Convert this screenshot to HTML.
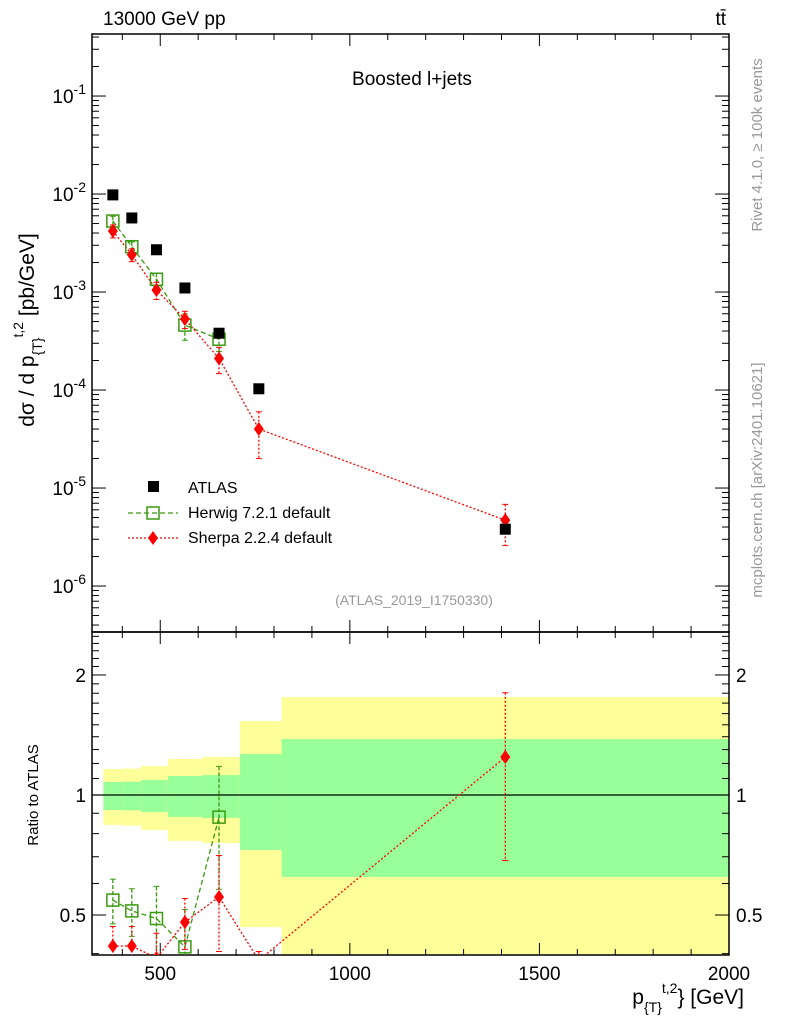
<!DOCTYPE html>
<html><head><meta charset="utf-8">
<style>
html,body{margin:0;padding:0;background:#fff;font-family:"Liberation Sans",sans-serif;overflow:hidden;width:786px;height:1024px;}
svg{display:block;}
svg text{font-family:"Liberation Sans",sans-serif;}
</style></head>
<body>
<svg id="c" width="786" height="1024" xmlns="http://www.w3.org/2000/svg"></svg>
<script>
const xCenters=[375,425,490,565,655,760,1410];
const binEdges=[350,400,450,520,610,710,820,2000];
const atlasVals=[0.0098,0.0057,0.0027,0.0011,0.00038,1.03e-4,3.8e-6];
const herwigX=[375,425,490,565,655];
const herwigVals=[0.0053,0.0029,0.00135,0.00046,0.00033];
const herwigErr=[0.12,0.12,0.15,0.3,0.25];
const sherpaVals=[0.0042,0.0024,0.00105,0.00053,0.00021,4.0e-5,4.7e-6];
const sherpaErr=[0.15,0.15,0.2,0.2,0.3,0.5,0.45];
const herwigRatio=[0.545,0.512,0.49,0.416,0.88];
const herwigRatioErr=[0.07,0.07,0.1,0.1,0.3];
const sherpaRatio=[0.418,0.418,0.39,0.48,0.555,0.385,1.245];
const sherpaRatioErr=[0.05,0.05,0.06,0.07,0.15,0.02,0.56];
const yellowHi=[1.162,1.165,1.182,1.231,1.245,1.533,1.76];
const yellowLo=[0.841,0.838,0.817,0.767,0.758,0.466,0.3];
const greenHi=[1.078,1.08,1.09,1.116,1.122,1.267,1.382];
const greenLo=[0.917,0.915,0.906,0.881,0.876,0.728,0.623];
const xTicks=[500,1000,1500,2000];
const yTickExp=[-1,-2,-3,-4,-5,-6];
const rTicks=[0.5,1,2];

const L=92,R=729,T=34,M=632,B=955;
const X=v=>L+(v-320)*(R-L)/(2000-320);
const Y=v=>T+(-0.367-Math.log10(v))*98;
const RY=v=>795-Math.log10(v)*398.7;
const svg=document.getElementById('c');
const NS='http://www.w3.org/2000/svg';
function el(t,a,p){const e=document.createElementNS(NS,t);for(const k in a)e.setAttribute(k,a[k]);(p||svg).appendChild(e);return e;}
function txt(s,a,p){const e=el('text',a,p);e.textContent=s;return e;}
el('defs',{}).innerHTML='<clipPath id="cu"><rect x="92" y="34" width="637" height="598"/></clipPath><clipPath id="cl"><rect x="92" y="632" width="637" height="323"/></clipPath>';

const gb=el('g',{'clip-path':'url(#cl)'});

for(let i=0;i<yellowHi.length;i++){
 const x0=X(binEdges[i]),x1=X(binEdges[i+1]);
 const y=el('rect',{x:x0,y:RY(yellowHi[i]),width:x1-x0,height:RY(yellowLo[i])-RY(yellowHi[i]),fill:'#ffff99'},gb);
 
 const g=el('rect',{x:x0,y:RY(greenHi[i]),width:x1-x0,height:RY(greenLo[i])-RY(greenHi[i]),fill:'#99ff99'},gb);
 
}
el('line',{x1:L,x2:R,y1:RY(1),y2:RY(1),stroke:'#000','stroke-width':1.2});

el('rect',{x:L,y:T,width:R-L,height:M-T,fill:'none',stroke:'#000','stroke-width':1.5});
el('rect',{x:L,y:M,width:R-L,height:B-M,fill:'none',stroke:'#000','stroke-width':1.5});

for(let v=400;v<=2000;v+=100){
 const big=v%500===0,x=X(v);
 for(const [top,bot] of [[T,M],[M,B]]){
  el('line',{x1:x,x2:x,y1:bot,y2:bot-(big?12:6),stroke:'#000'});
  el('line',{x1:x,x2:x,y1:top,y2:top+(big?12:6),stroke:'#000'});
 }
}
xTicks.forEach(v=>{const t=txt(v,{x:X(v),y:980,'font-size':19,'text-anchor':'middle'});});
for(let e=-7;e<=0;e++){for(let m=1;m<10;m++){const v=m*Math.pow(10,e);const y=Y(v);if(y<T||y>M)continue;const w=m===1?14:7;
 el('line',{x1:L,x2:L+w,y1:y,y2:y,stroke:'#000'});el('line',{x1:R,x2:R-w,y1:y,y2:y,stroke:'#000'});}}
yTickExp.forEach(e=>{const t=el('text',{x:86,y:Y(Math.pow(10,e))+7,'font-size':19,'text-anchor':'end'});t.innerHTML='10<tspan dy="-9" font-size="14">'+e+'</tspan>';});
for(let v=0.4;v<2.6;v+=0.1){const vv=Math.round(v*10)/10;const y=RY(vv);if(y<M||y>B)continue;const big=[0.5,1,2].includes(vv);const w=big?14:7;
 el('line',{x1:L,x2:L+w,y1:y,y2:y,stroke:'#000'});el('line',{x1:R,x2:R-w,y1:y,y2:y,stroke:'#000'});}
rTicks.forEach(v=>{txt(v,{x:86,y:RY(v)+7,'font-size':19,'text-anchor':'end'});txt(v,{x:736,y:RY(v)+7,'font-size':19});});

const gu=el('g',{'clip-path':'url(#cu)'});
function line(xs,ys,col,dash,g){el('polyline',{points:xs.map((x,i)=>x+','+ys[i]).join(' '),fill:'none',stroke:col,'stroke-width':1.3,'stroke-dasharray':dash},g);}
function diamond(x,y,col,g){const p=el('polygon',{points:`${x},${y-7} ${x+5},${y} ${x},${y+7} ${x-5},${y}`,fill:col},g);}
function errbar(x,y1,y2,col,dash,g){el('line',{x1:x,x2:x,y1:y1,y2:y2,stroke:col,'stroke-width':1.3,'stroke-dasharray':dash},g);el('line',{x1:x-3,x2:x+3,y1:y1,y2:y1,stroke:col},g);el('line',{x1:x-3,x2:x+3,y1:y2,y2:y2,stroke:col},g);}
const hc='#3a9a10',sc='#ff0000';
line(herwigX.map(X),herwigVals.map(Y),hc,'5,3',gu);
line(xCenters.map(X),sherpaVals.map(Y),sc,'2,2',gu);
herwigVals.forEach((v,i)=>{errbar(X(herwigX[i]),Y(v*(1+herwigErr[i])),Y(v*(1-herwigErr[i])),hc,'4,2',gu);const r=el('rect',{x:X(herwigX[i])-6,y:Y(v)-6,width:12,height:12,fill:'none',stroke:hc,'stroke-width':1.5},gu);});
sherpaVals.forEach((v,i)=>{errbar(X(xCenters[i]),Y(v*(1+sherpaErr[i])),Y(v*(1-sherpaErr[i])),sc,'2,2',gu);diamond(X(xCenters[i]),Y(v),sc,gu);});
atlasVals.forEach((v,i)=>{const r=el('rect',{x:X(xCenters[i])-5.5,y:Y(v)-5.5,width:11,height:11,fill:'#000'},gu);});

const gl=el('g',{'clip-path':'url(#cl)'});
line(herwigX.map(X),herwigRatio.map(RY),hc,'5,3',gl);
line(xCenters.map(X),sherpaRatio.map(RY),sc,'2,2',gl);
herwigRatio.forEach((v,i)=>{errbar(X(herwigX[i]),RY(v+herwigRatioErr[i]),RY(v-herwigRatioErr[i]),hc,'4,2',gl);el('rect',{x:X(herwigX[i])-6,y:RY(v)-6,width:12,height:12,fill:'none',stroke:hc,'stroke-width':1.5},gl);});
sherpaRatio.forEach((v,i)=>{errbar(X(xCenters[i]),RY(v+sherpaRatioErr[i]),RY(v-sherpaRatioErr[i]),sc,'2,2',gl);diamond(X(xCenters[i]),RY(v),sc,gl);});

el('rect',{x:148,y:481,width:11,height:11,fill:'#000'});
txt('ATLAS',{x:188,y:493,'font-size':16});
el('line',{x1:128,x2:178,y1:513,y2:513,stroke:hc,'stroke-dasharray':'5,3','stroke-width':1.3});
el('rect',{x:147,y:507,width:12,height:12,fill:'none',stroke:hc,'stroke-width':1.5});
txt('Herwig 7.2.1 default',{x:188,y:518,'font-size':16});
el('line',{x1:128,x2:178,y1:538,y2:538,stroke:sc,'stroke-dasharray':'2,2','stroke-width':1.3});
diamond(153,538,sc,svg);
txt('Sherpa 2.2.4 default',{x:188,y:543,'font-size':16});

txt('13000 GeV pp',{x:103,y:25,'font-size':19});
txt('tt̄',{x:726,y:25,'font-size':19,'text-anchor':'end'});
txt('Boosted l+jets',{x:412,y:85,'font-size':19,'text-anchor':'middle'});
txt('(ATLAS_2019_I1750330)',{x:414,y:605,'font-size':14,fill:'#999','text-anchor':'middle'});
const yt=el('text',{transform:'translate(34,330) rotate(-90)','font-size':21,'text-anchor':'middle'});
yt.innerHTML='dσ / d p<tspan dy="8" font-size="14">{T}</tspan><tspan dy="-19" font-size="14">t,2</tspan><tspan dy="11"> [pb/GeV]</tspan>';
txt('Ratio to ATLAS',{transform:'translate(38,795) rotate(-90)','font-size':15,'text-anchor':'middle'});
const xt=el('text',{x:744,y:1004,'font-size':21,'text-anchor':'end'});
xt.innerHTML='p<tspan dy="8" font-size="14">{T}</tspan><tspan dy="-19" font-size="14">t,2</tspan><tspan dy="11">} [GeV]</tspan>';
txt('Rivet 4.1.0, ≥ 100k events',{transform:'translate(762,145) rotate(-90)','font-size':15,fill:'#999','text-anchor':'middle'});
txt('mcplots.cern.ch [arXiv:2401.10621]',{transform:'translate(762,480) rotate(-90)','font-size':15,fill:'#999','text-anchor':'middle'});
</script>
</body></html>
